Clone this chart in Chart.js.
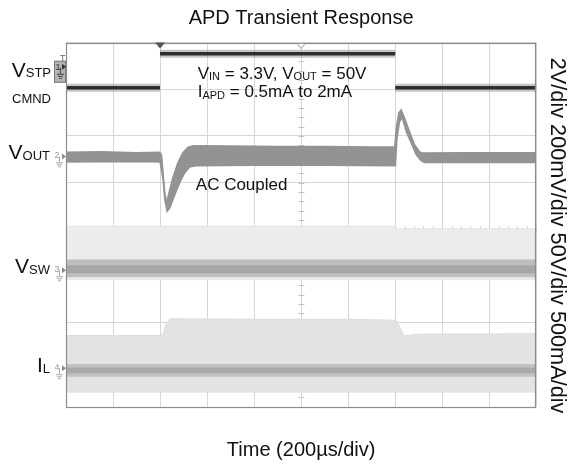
<!DOCTYPE html>
<html><head><meta charset="utf-8">
<script src="https://cdn.jsdelivr.net/npm/chart.js@4.4.0/dist/chart.umd.min.js"></script>
<style>html,body{margin:0;padding:0;background:#fff;}#wrap{width:568px;height:464px;}</style>
</head><body><div id="wrap"><canvas id="c" width="568" height="464"></canvas></div>
<script>
// Time in µs (200 µs/div); vertical values in screen divisions (centre line = 0)
const timeTicks = [0, 200, 400, 600, 800, 1000, 1200, 1400, 1600, 1800, 2000];
const divTicks = [-3, -2, -1, 0, 1, 2, 3, 4];

// VSTP CMND (ch1)
const vstpT = [0, 400, 400, 400, 1400, 1400, 1400, 2000];
const vstpY = [3.03, 3.03, null, 3.76, 3.76, null, 3.03, 3.03];

// VOUT (ch2, AC coupled) envelope
const voutUpT = [0, 150, 300, 399, 406, 420, 429, 434, 454, 476, 497, 518, 540, 700, 900, 1100, 1300, 1398, 1404, 1415, 1425, 1439, 1461, 1482, 1503, 1516, 1700, 2000];
const voutUpY = [1.65, 1.66, 1.64, 1.65, 1.60, 0.78, 0.53, 0.70, 1.10, 1.43, 1.64, 1.75, 1.79, 1.78, 1.77, 1.77, 1.76, 1.76, 2.13, 2.49, 2.56, 2.39, 2.09, 1.81, 1.66, 1.63, 1.64, 1.64];
const voutLoT = [0, 300, 400, 413, 420, 430, 442, 463, 484, 505, 527, 556, 800, 1100, 1401, 1407, 1418, 1430, 1447, 1468, 1489, 1510, 1524, 1700, 2000];
const voutLoY = [1.44, 1.45, 1.44, 1.06, 0.64, 0.38, 0.46, 0.74, 1.00, 1.21, 1.34, 1.36, 1.37, 1.37, 1.36, 1.92, 2.30, 2.39, 2.09, 1.85, 1.60, 1.47, 1.43, 1.43, 1.43];

// VSW (ch3)
const vswTopT = [0, 1400, 1410, 2000];
const vswTopY = [0.06, 0.06, 0.01, 0.01];
const vswBotT = [0, 2000];
const vswBotY = [-1.08, -1.08];
const vswBandHiY = [-0.66, -0.66];
const vswBandLoY = [-1.02, -1.02];
const vswCoreY = [-0.86, -0.86];

// IL (ch4)
const ilTopT = [0, 400, 413, 425, 442, 800, 1200, 1400, 1406, 1439, 1490, 2000];
const ilTopY = [-2.28, -2.28, -2.25, -2.05, -1.92, -1.93, -1.93, -1.95, -1.97, -2.29, -2.25, -2.24];
const ilBotT = [0, 2000];
const ilBotY = [-3.49, -3.49];
const ilBandHiY = [-2.90, -2.90];
const ilBandLoY = [-3.15, -3.15];
const ilCoreY = [-3.03, -3.03];

// ground reference markers (divisions) for ch1..ch4
const groundLevels = [3.48, 1.56, -0.88, -2.98];
const triggerTime = 400;
const triggerPosTime = 1000;

const pts = (t, y) => t.map((v, i) => ({x: v, y: y[i]}));

Chart.defaults.font.family = "'Liberation Sans', Arial, sans-serif";
Chart.defaults.color = '#111';

function drawParts(ctx, x, y, parts, alignRight) {
  let total = 0;
  parts.forEach(p => { ctx.font = p.s + "px 'Liberation Sans', Arial, sans-serif"; p.w = ctx.measureText(p.t).width; total += p.w; });
  let cx = alignRight ? x - total : x;
  ctx.textAlign = 'left'; ctx.textBaseline = 'alphabetic';
  parts.forEach(p => { ctx.font = p.s + "px 'Liberation Sans', Arial, sans-serif"; ctx.fillText(p.t, cx, y + (p.dy || 0)); cx += p.w; });
}

function groundSym(ctx, x, y, col) {
  ctx.strokeStyle = col; ctx.lineWidth = 1;
  ctx.beginPath();
  ctx.moveTo(x + 0.5, y); ctx.lineTo(x + 0.5, y + 6);
  ctx.moveTo(x - 3, y + 6.5); ctx.lineTo(x + 4, y + 6.5);
  ctx.moveTo(x - 2, y + 8.5); ctx.lineTo(x + 3, y + 8.5);
  ctx.moveTo(x - 1, y + 10.5); ctx.lineTo(x + 2, y + 10.5);
  ctx.stroke();
}

const decoPlugin = {
  id: 'deco',
  beforeDatasetsDraw(chart) {
    const ctx = chart.ctx, xs = chart.scales.x, ys = chart.scales.y;
    const cx = Math.round(xs.getPixelForValue(1000)) + 0.5;
    const cy = Math.round(ys.getPixelForValue(0)) + 0.5;
    ctx.save();
    ctx.strokeStyle = '#c4c4c4'; ctx.lineWidth = 1;
    ctx.beginPath();
    for (let v = -3.8; v <= 4; v += 0.2) {
      const py = Math.round(ys.getPixelForValue(v)) + 0.5;
      ctx.moveTo(cx - 3, py); ctx.lineTo(cx + 3, py);
    }
    for (let t = 0; t <= 2000; t += 40) {
      const px = Math.round(xs.getPixelForValue(t)) + 0.5;
      ctx.moveTo(px, cy - 3); ctx.lineTo(px, cy + 3);
    }
    ctx.stroke();
    ctx.restore();
  },
  afterDraw(chart) {
    const ctx = chart.ctx, xs = chart.scales.x, ys = chart.scales.y;
    const {left, right, top, bottom} = chart.chartArea;
    ctx.save();
    // frame
    ctx.strokeStyle = '#8c8c8c'; ctx.lineWidth = 1.2;
    ctx.strokeRect(Math.round(left) + 0.5, Math.round(top) + 0.5, Math.round(right - left) - 1, Math.round(bottom - top) - 1);
    // trigger markers
    const tx = xs.getPixelForValue(triggerTime);
    ctx.fillStyle = '#555';
    ctx.beginPath(); ctx.moveTo(tx - 5, top); ctx.lineTo(tx + 5, top); ctx.lineTo(tx, top + 6); ctx.closePath(); ctx.fill();
    const px = xs.getPixelForValue(triggerPosTime);
    ctx.fillStyle = '#fff'; ctx.strokeStyle = '#999'; ctx.lineWidth = 1;
    ctx.beginPath(); ctx.moveTo(px - 4, top + 1); ctx.lineTo(px + 4, top + 1); ctx.lineTo(px, top + 6); ctx.closePath(); ctx.fill(); ctx.stroke();

    // channel ground markers
    groundLevels.forEach((lv, i) => {
      const gy = ys.getPixelForValue(lv);
      if (i === 0) {
        ctx.fillStyle = '#b4b4b4'; ctx.strokeStyle = '#7a7a7a';
        ctx.fillRect(54, gy - 6, 11, 22); ctx.strokeRect(54.5, gy - 5.5, 11, 21);
        ctx.fillStyle = '#666'; ctx.font = "9px 'Liberation Sans', Arial, sans-serif"; ctx.textAlign = 'left'; ctx.textBaseline = 'alphabetic';
        ctx.fillText('T', 60, gy - 6);
        ctx.fillStyle = '#333'; ctx.fillText('1', 55.5, gy + 3);
        groundSym(ctx, 60, gy + 1, '#444');
        ctx.fillStyle = '#333';
      } else {
        ctx.fillStyle = '#9c9c9c'; ctx.font = "9px 'Liberation Sans', Arial, sans-serif"; ctx.textAlign = 'left'; ctx.textBaseline = 'alphabetic';
        ctx.fillText(String(i + 1), 54.5, gy + 2);
        groundSym(ctx, 59, gy, '#a8a8a8');
        ctx.fillStyle = '#8a8a8a';
      }
      ctx.beginPath(); ctx.moveTo(62, gy - 3); ctx.lineTo(66, gy); ctx.lineTo(62, gy + 3); ctx.closePath(); ctx.fill();
    });

    // channel labels (left)
    ctx.fillStyle = '#111';
    const g = groundLevels.map(l => ys.getPixelForValue(l));
    drawParts(ctx, 51, g[0] + 10, [{t: 'V', s: 21}, {t: 'STP', s: 13, dy: 0.5}], true);
    drawParts(ctx, 51, g[0] + 36, [{t: 'CMND', s: 13}], true);
    drawParts(ctx, 50, g[1] + 3, [{t: 'V', s: 21}, {t: 'OUT', s: 13, dy: 0.5}], true);
    drawParts(ctx, 50, g[2] + 3, [{t: 'V', s: 21}, {t: 'SW', s: 13, dy: 0.5}], true);
    drawParts(ctx, 50, g[3] + 4, [{t: 'I', s: 21}, {t: 'L', s: 13, dy: 0.5}], true);

    // annotations
    const ax = xs.getPixelForValue(560);
    drawParts(ctx, ax, ys.getPixelForValue(3.22), [{t: 'V', s: 17}, {t: 'IN', s: 11, dy: 1.5}, {t: ' = 3.3V, V', s: 17}, {t: 'OUT', s: 11, dy: 1.5}, {t: ' = 50V', s: 17}], false);
    drawParts(ctx, ax, ys.getPixelForValue(2.84), [{t: 'I', s: 17}, {t: 'APD', s: 11, dy: 2.5}, {t: ' = 0.5mA to 2mA', s: 17}], false);
    drawParts(ctx, xs.getPixelForValue(552), ys.getPixelForValue(0.85), [{t: 'AC Coupled', s: 17}], false);
    ctx.restore();
  }
};

const gridOpts = {color: '#d6d6d6', lineWidth: 1, drawTicks: false};
const voutCol = '#939393';

new Chart(document.getElementById('c'), {
  type: 'line',
  data: {
    datasets: [
      {data: pts(vstpT, vstpY), borderColor: '#2e2e2e', borderWidth: 3.5, order: 0},
      {data: pts(vstpT, vstpY), borderColor: 'rgba(130,130,130,0.45)', borderWidth: 8, order: 1},
      {data: pts(voutUpT, voutUpY), borderColor: voutCol, backgroundColor: voutCol, borderWidth: 1.5, fill: 3, order: 2},
      {data: pts(voutLoT, voutLoY), borderColor: voutCol, borderWidth: 1.5, order: 3},
      {data: pts(vswBotT, vswCoreY), borderColor: '#a6a6a6', borderWidth: 8, order: 4},
      {data: pts(vswBotT, vswBandHiY), borderColor: '#bebebe', backgroundColor: '#bebebe', borderWidth: 1, fill: 6, order: 5},
      {data: pts(vswBotT, vswBandLoY), borderColor: '#bebebe', borderWidth: 1, order: 6},
      {data: pts(vswTopT, vswTopY), borderColor: '#e2e2e2', backgroundColor: '#ececec', borderWidth: 1, fill: 8, order: 7},
      {data: pts(vswBotT, vswBotY), borderColor: '#e2e2e2', borderWidth: 1, order: 8},
      {data: pts(ilBotT, ilCoreY), borderColor: '#a9a9a9', borderWidth: 6, order: 9},
      {data: pts(ilBotT, ilBandHiY), borderColor: '#c2c2c2', backgroundColor: '#c2c2c2', borderWidth: 1, fill: 11, order: 10},
      {data: pts(ilBotT, ilBandLoY), borderColor: '#c2c2c2', borderWidth: 1, order: 11},
      {data: pts(ilTopT, ilTopY), borderColor: '#dcdcdc', backgroundColor: '#e3e3e3', borderWidth: 1, fill: 13, order: 12},
      {data: pts(ilBotT, ilBotY), borderColor: '#dcdcdc', borderWidth: 1, order: 13}
    ]
  },
  options: {
    responsive: false,
    animation: false,
    devicePixelRatio: 1,
    elements: {point: {radius: 0, hoverRadius: 0}, line: {tension: 0}},
    layout: {padding: {left: 66, right: 0, top: 0, bottom: 0}},
    plugins: {
      legend: {display: false},
      tooltip: {enabled: false},
      title: {display: true, fullSize: false, text: 'APD Transient Response', color: '#111',
        font: {size: 20, weight: 'normal'}, padding: {top: 6, bottom: 12.5}}
    },
    scales: {
      x: {type: 'linear', position: 'bottom', min: 0, max: 2000, grid: gridOpts,
        border: {display: false}, ticks: {display: false},
        afterBuildTicks: a => { a.ticks = timeTicks.map(v => ({value: v})); },
        title: {display: true, text: 'Time (200µs/div)', color: '#111', font: {size: 20}, padding: {top: 31, bottom: 2}}},
      y: {type: 'linear', position: 'left', min: -3.81, max: 4, grid: gridOpts,
        border: {display: false}, ticks: {display: false},
        afterBuildTicks: a => { a.ticks = divTicks.map(v => ({value: v})); }},
      y2: {type: 'linear', position: 'right', grid: {display: false, drawTicks: false}, border: {display: false},
        ticks: {display: false},
        title: {display: true, text: '\u2002\u20022V/div 200mV/div 50V/div 500mA/div', color: '#111',
          font: {size: 21.7, lineHeight: 1.0}, padding: {top: 0, bottom: 10}}}
    }
  },
  plugins: [decoPlugin]
});
</script></body></html>
